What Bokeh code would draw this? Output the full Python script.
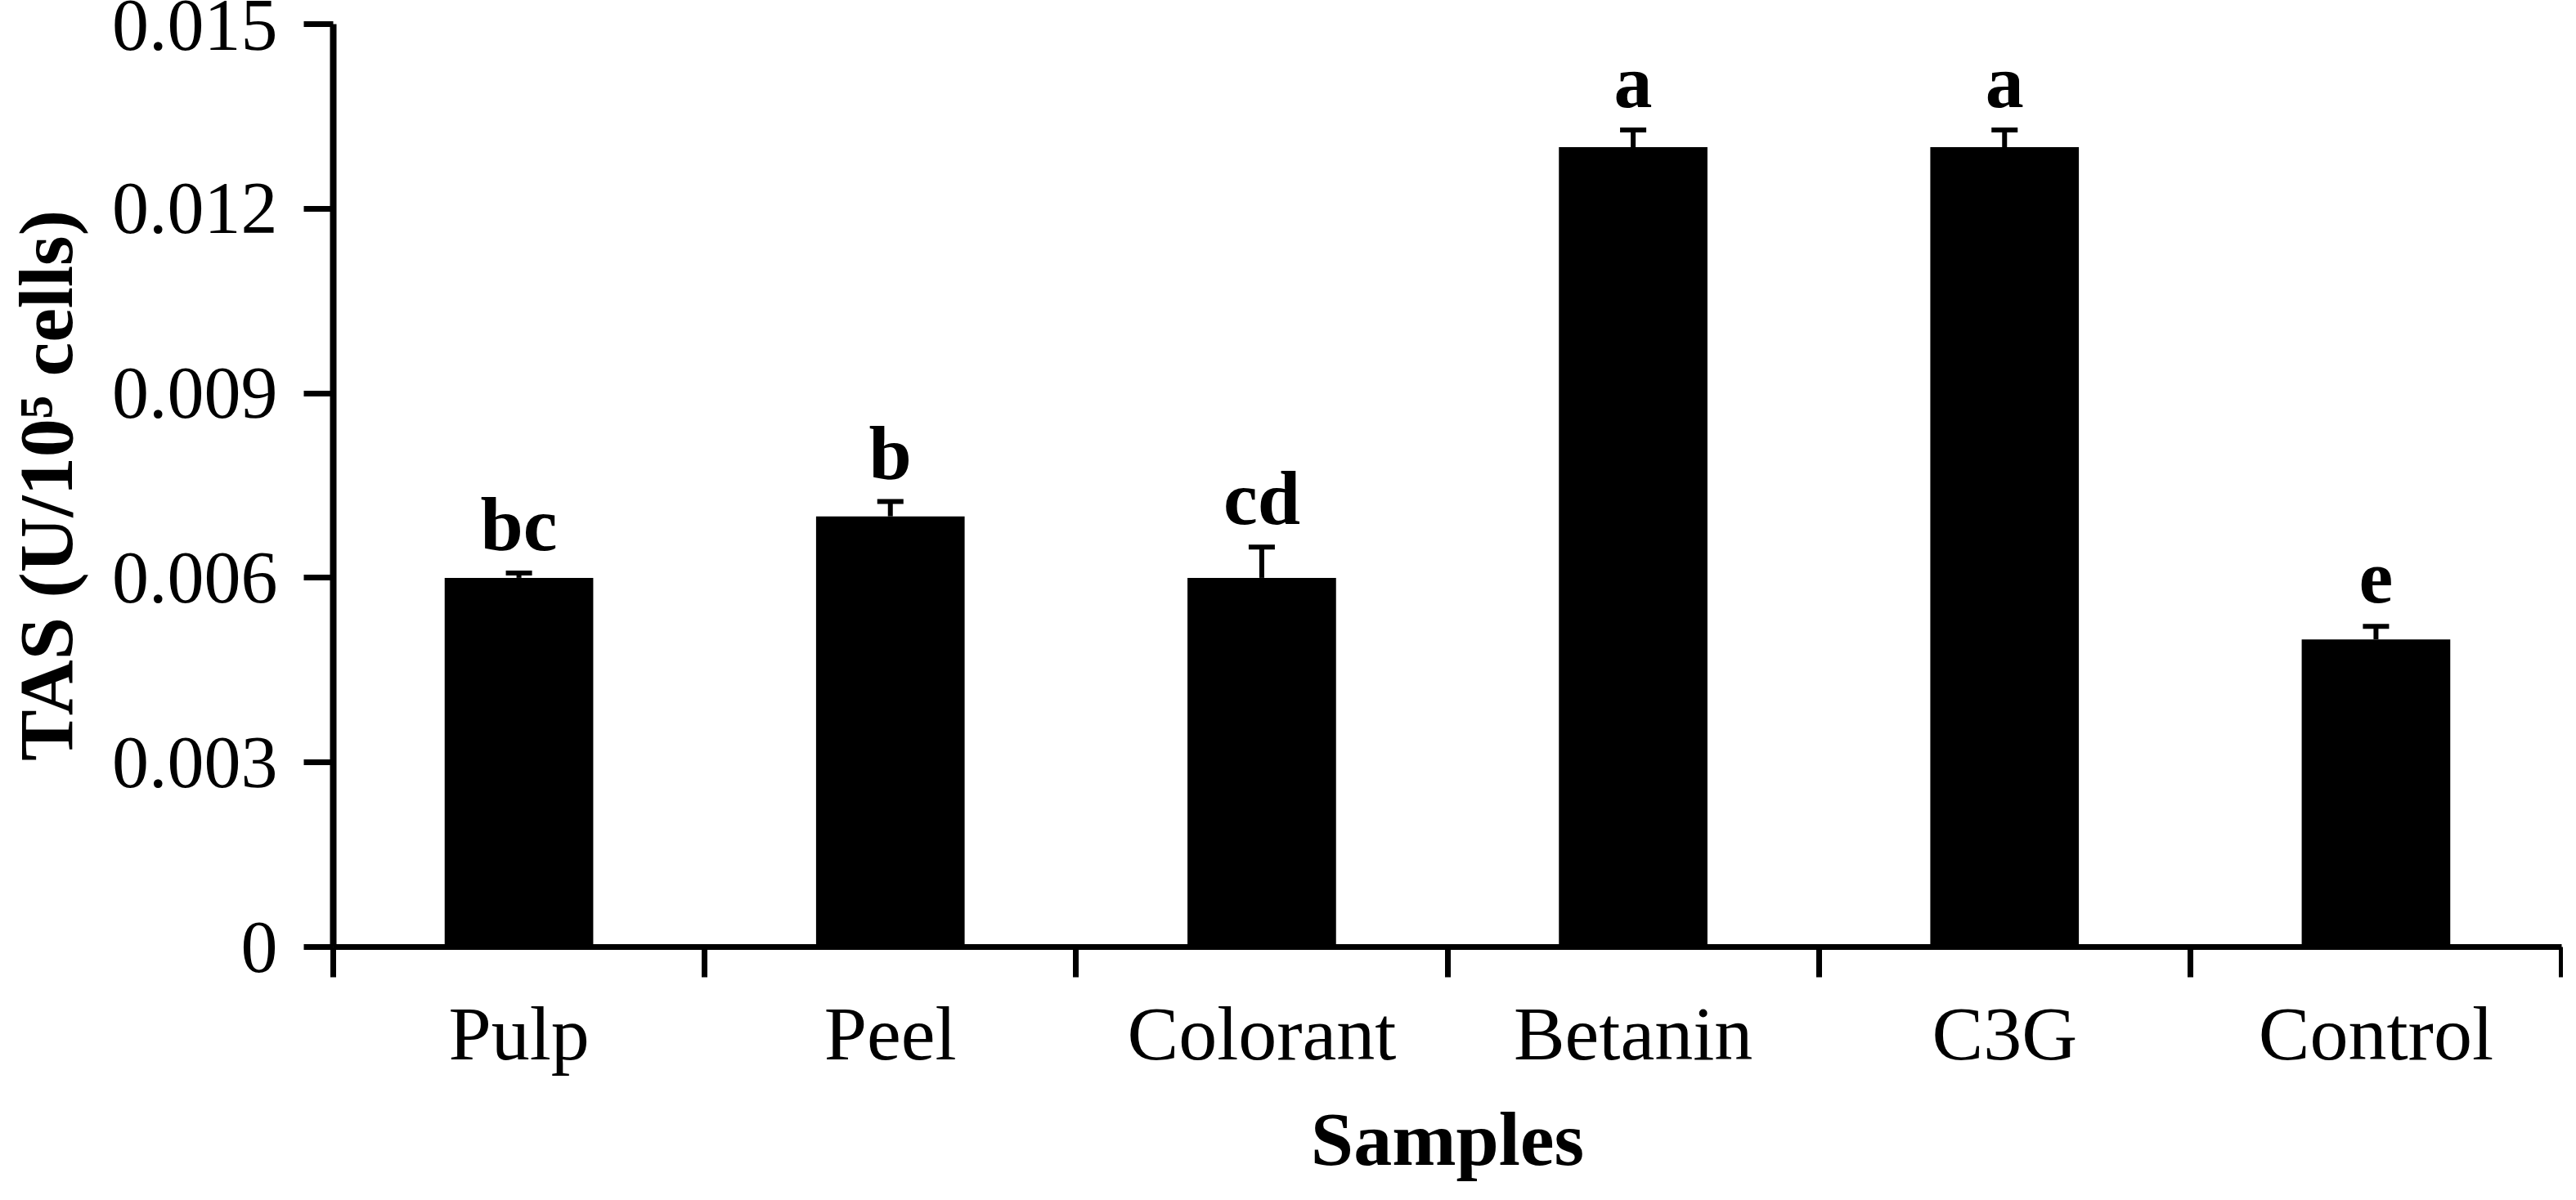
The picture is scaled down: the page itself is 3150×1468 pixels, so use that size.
from bokeh.plotting import figure
from bokeh.models import Range1d, FixedTicker, Whisker, TeeHead, ColumnDataSource
from bokeh.core.properties import value
from bokeh.embed import file_html
from bokeh.resources import INLINE

# ---- data ----
categories = ["Pulp", "Peel", "Colorant", "Betanin", "C3G", "Control"]
tas_values = [0.0060, 0.0070, 0.0060, 0.0130, 0.0130, 0.0050]
tas_errors = [0.00008, 0.00024, 0.00050, 0.00028, 0.00028, 0.00021]
sig_letters = ["bc", "b", "cd", "a", "a", "e"]
y_ticks = [0, 0.003, 0.006, 0.009, 0.012, 0.015]
y_tick_labels = ["0", "0.003", "0.006", "0.009", "0.012", "0.015"]

FONT = "Liberation Serif"

xpos = [i + 0.5 for i in range(len(categories))]
upper = [v + e for v, e in zip(tas_values, tas_errors)]
src = ColumnDataSource(dict(x=xpos, top=tas_values, upper=upper, letter=sig_letters))

p = figure(width=3134, height=1452, output_backend="svg", toolbar_location=None,
           x_range=Range1d(0, len(categories)), y_range=Range1d(0, y_ticks[-1]),
           min_border_left=399, min_border_right=2, min_border_top=29, min_border_bottom=294)
p.outline_line_color = None
p.grid.visible = False
p.background_fill_color = "white"
p.border_fill_color = "white"

p.vbar(x="x", top="top", width=0.4, source=src, fill_color="black", line_color=None)

w = Whisker(base="x", upper="upper", lower="top", source=src, line_color="black", line_width=6,
            upper_head=TeeHead(size=32, line_width=6, line_color="black"), lower_head=None)
p.add_layout(w)

p.text(x="x", y="upper", text="letter", source=src, text_align="center",
       text_baseline="alphabetic", y_offset=-60, text_font=value(FONT),
       text_font_style="bold", text_font_size="94px", text_color="black")

# x axis: labels at centers, ticks at category boundaries
xa = p.xaxis[0]
xa.ticker = FixedTicker(ticks=xpos, minor_ticks=list(range(len(categories) + 1)))
xa.major_label_overrides = {x: c for x, c in zip(xpos, categories)}
xa.major_tick_out = 0
xa.major_tick_in = 0
xa.minor_tick_out = 37
xa.minor_tick_in = 0
xa.minor_tick_line_width = 7
xa.minor_tick_line_color = "black"
xa.axis_line_width = 7
xa.axis_line_color = "black"
xa.major_label_text_font = FONT
xa.major_label_text_font_size = "94px"
xa.major_label_text_color = "black"
xa.major_label_standoff = 16
xa.axis_label = "Samples"
xa.axis_label_text_font = FONT
xa.axis_label_text_font_style = "bold"
xa.axis_label_text_font_size = "94px"
xa.axis_label_text_color = "black"
xa.axis_label_standoff = 22

ya = p.yaxis[0]
ya.ticker = FixedTicker(ticks=y_ticks, minor_ticks=[])
ya.major_label_overrides = {t: l for t, l in zip(y_ticks, y_tick_labels)}
ya.major_tick_out = 36
ya.major_tick_in = 0
ya.major_tick_line_width = 7
ya.major_tick_line_color = "black"
ya.axis_line_width = 8
ya.axis_line_color = "black"
ya.major_label_text_font = FONT
ya.major_label_text_font_size = "90px"
ya.major_label_text_color = "black"
ya.major_label_standoff = 32
ya.axis_label = "TAS (U/10\u2075 cells)"
ya.axis_label_text_font = FONT
ya.axis_label_text_font_style = "bold"
ya.axis_label_text_font_size = "94px"
ya.axis_label_text_color = "black"
ya.axis_label_standoff = 26

open("out.html", "w").write(file_html(p, INLINE))
